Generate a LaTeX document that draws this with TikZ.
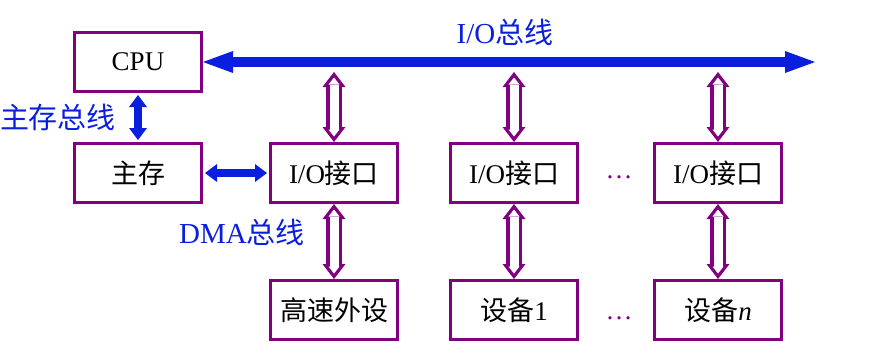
\documentclass[tikz,border=0pt]{standalone}
\usepackage{fontspec}
\setmainfont{Liberation Serif}
\newfontfamily\zhfont{Noto Sans CJK SC}
\newcommand{\zh}[1]{{\zhfont #1}}
\usepackage{tikz}
\usetikzlibrary{arrows.meta, positioning, calc}
\definecolor{vio}{RGB}{128,0,128}
\definecolor{blu}{RGB}{10,30,222}

\begin{document}
\begin{tikzpicture}[
      box/.style={rectangle, draw=vio, line width=3pt, minimum width=127pt, minimum height=59pt, inner sep=0pt, font=\fontsize{27}{31}\selectfont},
      lbl/.style={text=blu, inner sep=0pt, font=\fontsize{29}{33}\selectfont},
      dots/.style={text=vio, inner sep=0pt, font=\fontsize{27}{31}\selectfont},
      busarr/.style={blu, line width=10pt, {Triangle[length=30pt, width=22pt, line width=0pt]}-{Triangle[length=30pt, width=22pt, line width=0pt]}},
      arr/.style={blu, line width=8pt, {Triangle[length=12pt, width=18pt, line width=0pt]}-{Triangle[length=12pt, width=18pt, line width=0pt]}, shorten <=2pt, shorten >=2pt},
      hout/.style={vio, line width=16pt, {Triangle[length=15pt, width=23pt, line width=0pt]}-{Triangle[length=15pt, width=23pt, line width=0pt]}},
      hin/.style={white, line width=9pt, {Triangle[length=7pt, width=11pt, line width=0pt]}-{Triangle[length=7pt, width=11pt, line width=0pt]}, shorten <=5.5pt, shorten >=5.5pt}]
    \useasboundingbox (0,0) rectangle (881pt,-360pt);
    % boxes
    \node[box] (cpu) at (138pt,-62pt) {CPU};
    \node[box, below=49pt of cpu] (mem) {\zh{主存}};
    \node[box, right=66pt of mem] (io1) {I/O\zh{接口}};
    \node[box, right=50pt of io1] (io2) {I/O\zh{接口}};
    \node[box, right=74pt of io2] (io3) {I/O\zh{接口}};
    \node[box, below=75pt of io1] (hs) {\zh{高速外设}};
    \node[box, below=75pt of io2] (dev1) {\zh{设备}1};
    \node[box, below=75pt of io3] (devn) {\zh{设备}\textit{n}};
    \node[dots, xshift=3pt, yshift=-4.5pt] (d1) at ($(io2.east)!0.5!(io3.west)$) {…};
    \node[dots, xshift=3pt, yshift=-8pt] (d2) at ($(dev1.east)!0.5!(devn.west)$) {…};
    % buses
    \coordinate (busend) at (815pt,-62pt);
    \draw[busarr] (cpu.east) -- (busend) node[lbl, midway, above=11pt, xshift=-4pt] {I/O\zh{总线}};
    \draw[arr] (cpu.south) -- (mem.north) node[lbl, midway, left=18pt] {\zh{主存总线}};
    \draw[arr] (mem.east) -- (io1.west) node[lbl, midway, below=42pt, xshift=6pt] {DMA\zh{总线}};
    % taps
    \coordinate (tap1) at ($(io1 |- busend)+(0,-10pt)$);
    \coordinate (tap2) at ($(io2 |- busend)+(0,-10pt)$);
    \coordinate (tap3) at ($(io3 |- busend)+(0,-10pt)$);
    \draw[hout] (tap1) -- (io1); \draw[hin] (tap1) -- (io1);
    \draw[hout] (tap2) -- (io2); \draw[hin] (tap2) -- (io2);
    \draw[hout] (tap3) -- (io3); \draw[hin] (tap3) -- (io3);
    \draw[hout] (io1) -- (hs); \draw[hin] (io1) -- (hs);
    \draw[hout] (io2) -- (dev1); \draw[hin] (io2) -- (dev1);
    \draw[hout] (io3) -- (devn); \draw[hin] (io3) -- (devn);
  \end{tikzpicture}
\end{document}
